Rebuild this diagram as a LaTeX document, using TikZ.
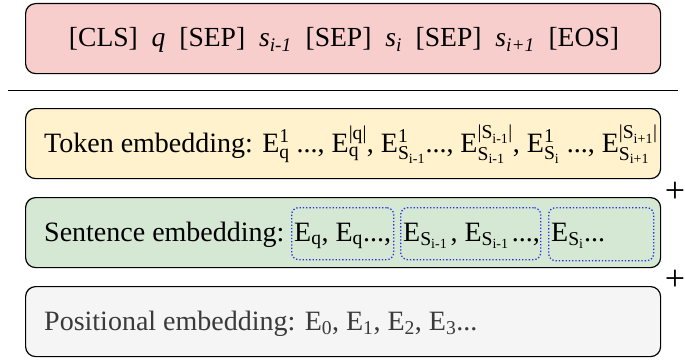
\documentclass[tikz,border=0pt]{standalone}
\usepackage{amsmath}
\usepackage{fontspec}
\setmainfont{Liberation Serif}
\definecolor{inred}{HTML}{F8CECC}
\definecolor{tokyel}{HTML}{FFF2CC}
\definecolor{sengrn}{HTML}{D5E8D4}
\definecolor{posgry}{HTML}{F5F5F5}
\definecolor{grpblue}{HTML}{2B2BF0}
\definecolor{postext}{HTML}{3A3A3A}
\newcommand{\tx}[1]{\text{#1}}
\tikzset{
  layer/.style={draw=black, line width=1.2pt, rounded corners=10pt,
    minimum width=635pt, minimum height=70pt, anchor=north west, inner sep=0pt},
  grp/.style={draw=grpblue, dotted, line width=1.3pt, rounded corners=7pt,
    anchor=north west, inner sep=0pt},
  lbl/.style={anchor=base west, inner sep=0pt, font=\fontsize{28}{33}\selectfont},
  plus/.style={inner sep=0pt, font=\fontsize{36}{40}\selectfont},
}
\begin{document}
\begin{tikzpicture}[x=1pt,y=-1pt]
\useasboundingbox (0,0) rectangle (685,361);
% input box
\node[layer, fill=inred] (inp) at (25,3) {};
\node[anchor=base, inner sep=0pt, font=\fontsize{27.6}{32}\selectfont] (inptxt) at (344,47)
  {[CLS]\ \ \textit{q}\ \ [SEP]\ \ \textit{s}\textsubscript{\textit{i-1}}\ \ [SEP]\ \ \textit{s}\textsubscript{\textit{i}}\ \ [SEP]\ \ \textit{s}\textsubscript{\textit{i+1}}\ \ [EOS]};
% separator
\coordinate (l1) at (8,90);
\coordinate (l2) at (678,90);
\draw[line width=1pt] (l1) -- (l2);
% token embedding
\node[layer, fill=tokyel] (tok) at (25,108) {};
\node[lbl] (toktxt) at (44,152)
  {Token embedding: E$^{\tx{1}}_{\tx{q}}$ ..., E$^{\tx{|q|}}_{\tx{q}}$, E$^{\tx{1}}_{\tx{S}_{\tx{i-1}}}$..., E$^{\tx{|S}_{\tx{i-1}}\tx{|}}_{\tx{S}_{\tx{i-1}}}$, E$^{\tx{1}}_{\tx{S}_{\tx{i}}}$ ..., E$^{\tx{|S}_{\tx{i+1}}\tx{|}}_{\tx{S}_{\tx{i+1}}}$};
% sentence embedding
\node[layer, fill=sengrn] (sen) at (25,197) {};
\node[grp, minimum width=102pt, minimum height=52pt] (g1) at (291,207) {};
\node[grp, minimum width=140pt, minimum height=52pt] (g2) at (400,207) {};
\node[grp, minimum width=105pt, minimum height=53pt] (g3) at (548,207) {};
\node[lbl] (sentxt) at (44,241) {Sentence embedding:};
\node[lbl] (s1) at (294,241) {E$_{\tx{q}}$, E$_{\tx{q}}$...,};
\node[lbl] (s2) at (403,241) {E$_{\tx{S}_{\tx{i-1}}}$\hspace{0.1em}, E$_{\tx{S}_{\tx{i-1}}}$\hspace{0.1em}...,};
\node[lbl] (s3) at (551,241) {E$_{\tx{S}_{\tx{i}}}$...};
% positional embedding
\node[layer, fill=posgry] (pos) at (25,286) {};
\node[lbl, text=postext] (postxt) at (44,330)
  {Positional embedding: E$_{\tx{0}}$, E$_{\tx{1}}$, E$_{\tx{2}}$, E$_{\tx{3}}$...};
% plus signs
\node[plus] (p1) at (675,192) {+};
\node[plus] (p2) at (675,280) {+};
\end{tikzpicture}
\end{document}
